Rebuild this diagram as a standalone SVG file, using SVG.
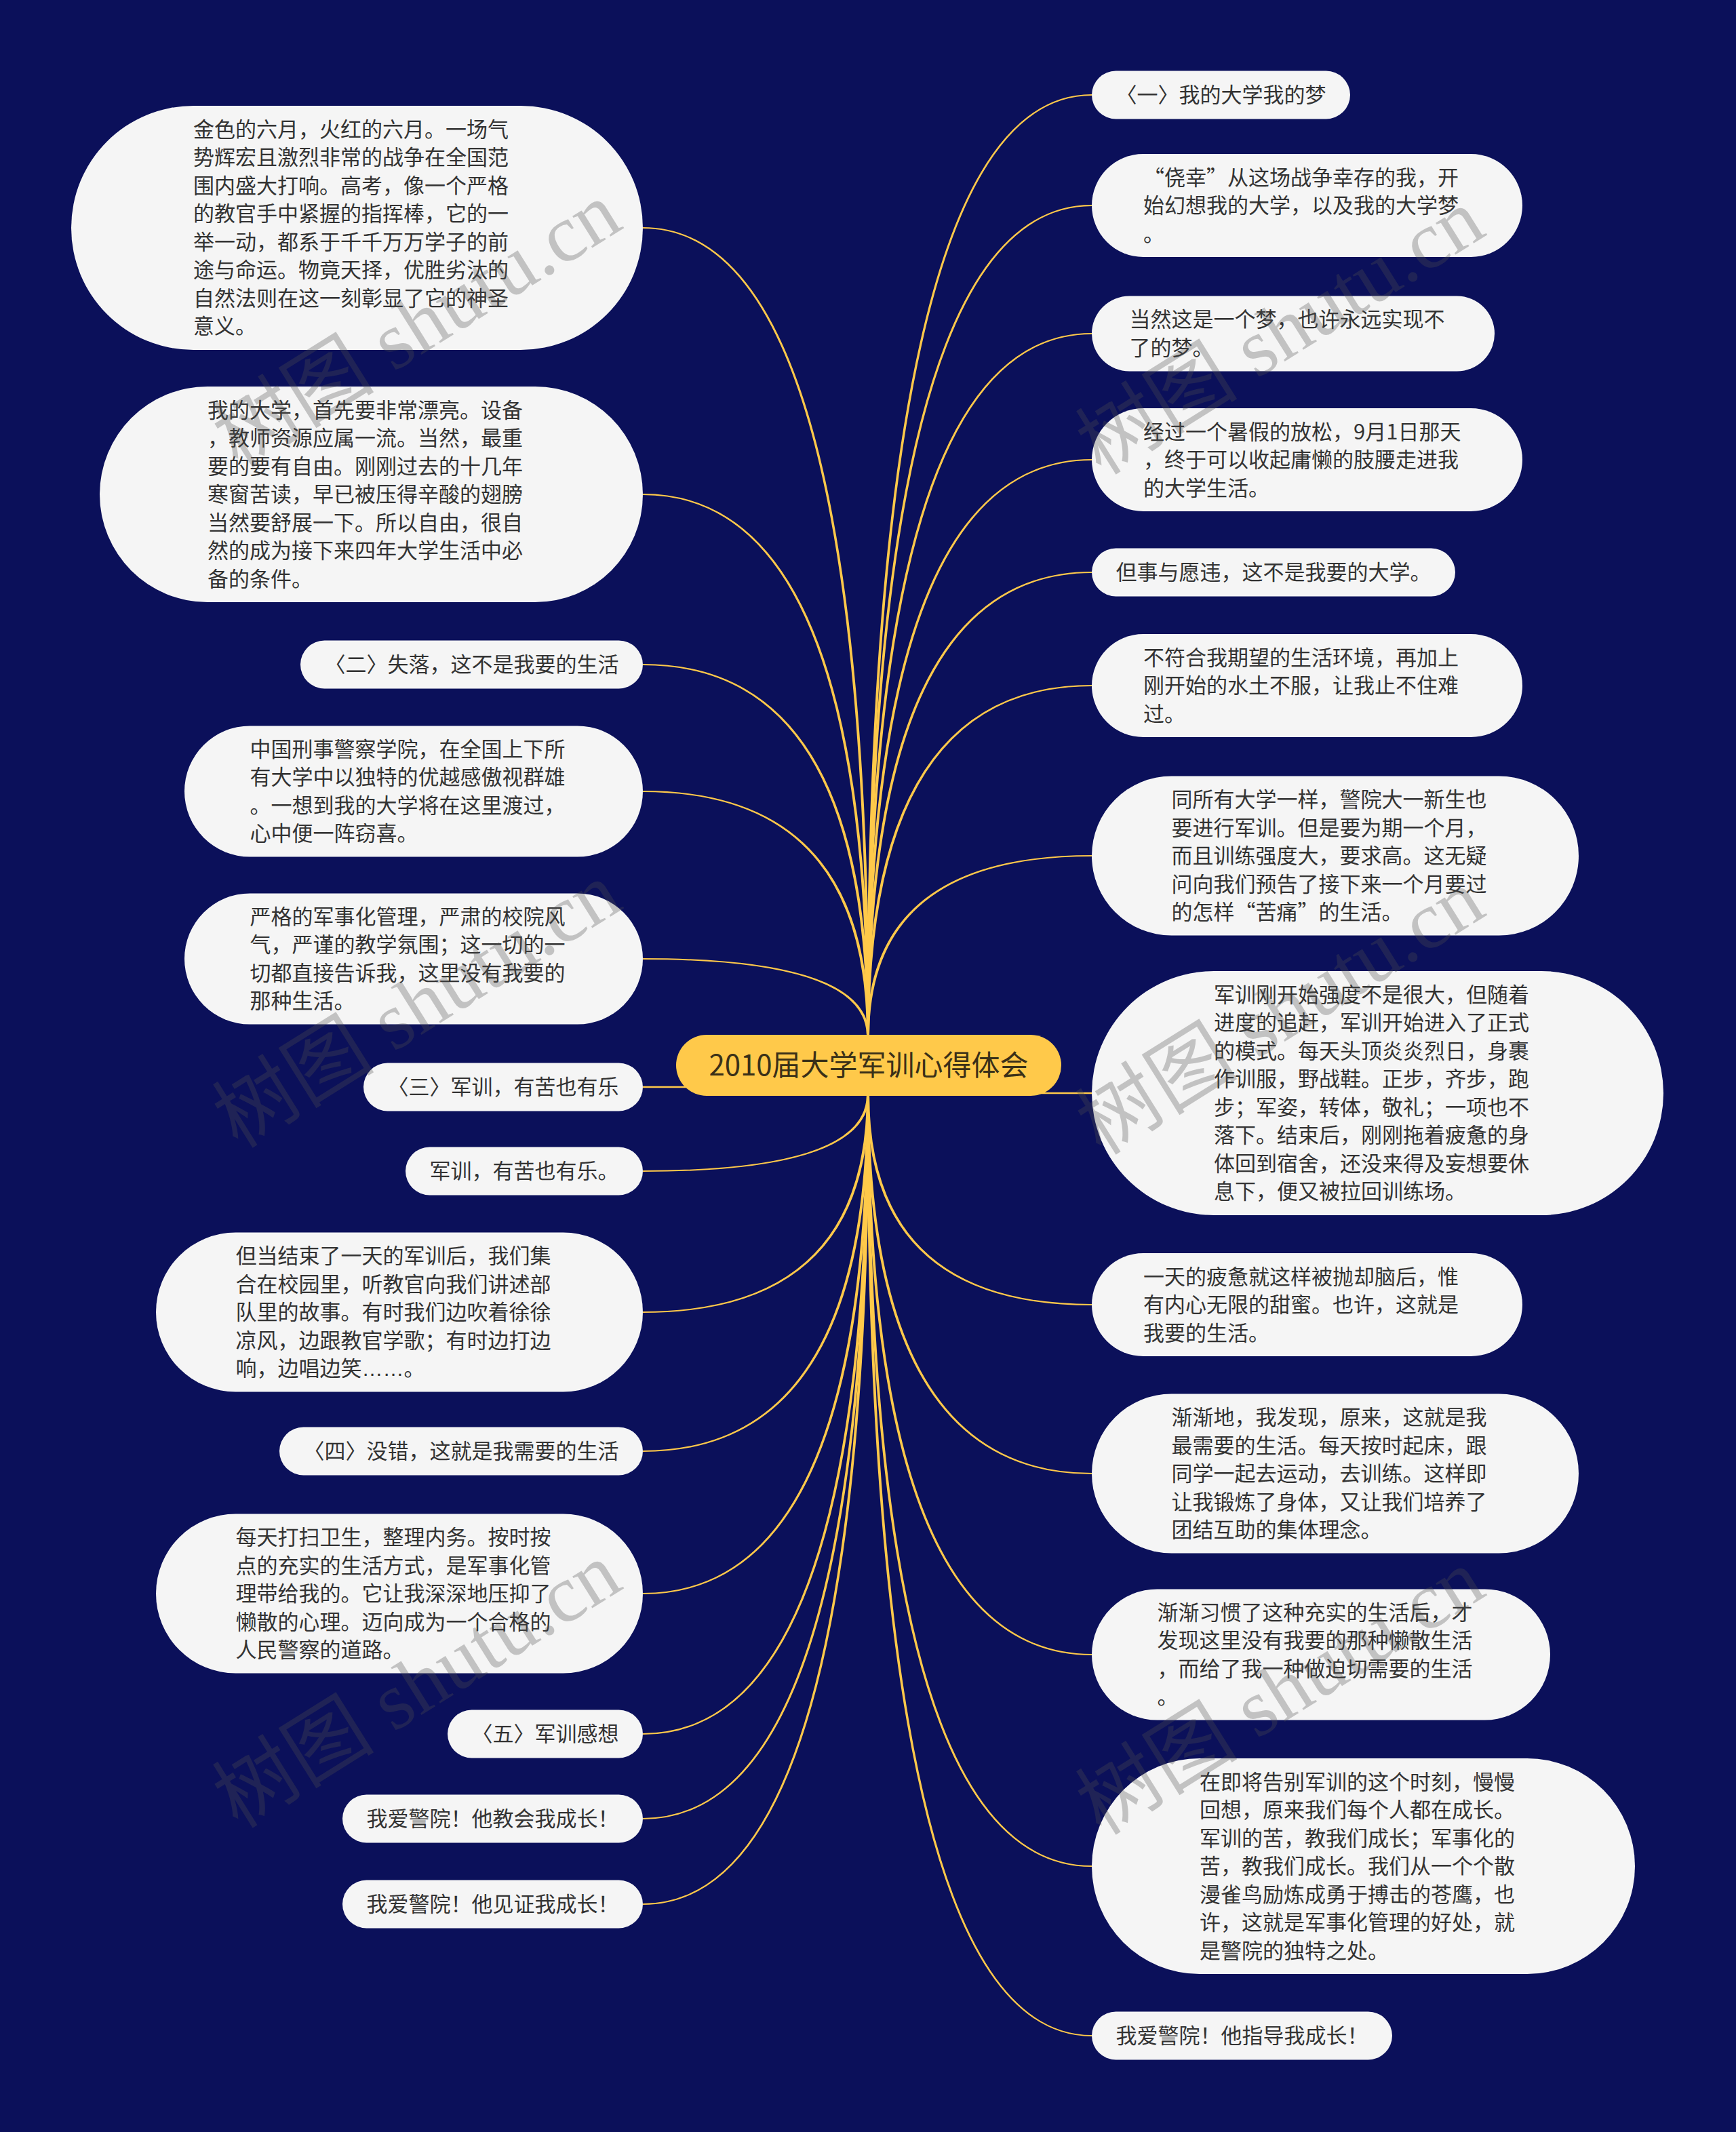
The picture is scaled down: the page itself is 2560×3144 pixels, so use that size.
<svg xmlns="http://www.w3.org/2000/svg" width="2560" height="3144" viewBox="0 0 2560 3144">
<style>
.bg{fill:#0b105a}
.n{fill:#f5f5f5}
.c{fill:#ffc94a}
.t{font-family:"Noto Sans CJK SC","Liberation Sans",sans-serif;font-size:31px;fill:#333333}
.e{font-family:"Liberation Sans",sans-serif}
.ct{font-family:"Noto Sans CJK SC","Liberation Sans",sans-serif;font-size:42px;fill:#3a3018}
.w{font-family:"Liberation Serif","Noto Sans CJK SC",serif;font-size:120px;fill:#505050;opacity:0.3}
#links path{fill:#ffc94a}
</style>
<rect class="bg" x="0" y="0" width="2560" height="3144"/>
<g id="links">
<path d="M1282 1528Q1282 141 1610 141L1610 139Q1278 139 1278 1528Z"/>
<path d="M1282 1528Q1282 304 1610 304L1610 302Q1278 302 1278 1528Z"/>
<path d="M1282 1528Q1282 493 1610 493L1610 491Q1278 491 1278 1528Z"/>
<path d="M1282 1528Q1282 679 1610 679L1610 677Q1278 677 1278 1528Z"/>
<path d="M1282 1528Q1282 845 1610 845L1610 843Q1278 843 1278 1528Z"/>
<path d="M1282 1528Q1282 1012 1610 1012L1610 1010Q1278 1010 1278 1528Z"/>
<path d="M1282 1528Q1282 1263 1610 1263L1610 1261Q1278 1261 1278 1528Z"/>
<path d="M1280 1610.8H1610V1613.2H1280Z"/>
<path d="M1282 1614Q1282 1923 1610 1923L1610 1925Q1278 1925 1278 1614Z"/>
<path d="M1282 1614Q1282 2172 1610 2172L1610 2174Q1278 2174 1278 1614Z"/>
<path d="M1282 1614Q1282 2439 1610 2439L1610 2441Q1278 2441 1278 1614Z"/>
<path d="M1282 1614Q1282 2751 1610 2751L1610 2753Q1278 2753 1278 1614Z"/>
<path d="M1282 1614Q1282 3001 1610 3001L1610 3003Q1278 3003 1278 1614Z"/>
<path d="M1278 1528Q1278 337 948 337L948 335Q1282 335 1282 1528Z"/>
<path d="M1278 1528Q1278 730 948 730L948 728Q1282 728 1282 1528Z"/>
<path d="M1278 1528Q1278 981 948 981L948 979Q1282 979 1282 1528Z"/>
<path d="M1278 1528Q1278 1168 948 1168L948 1166Q1282 1166 1282 1528Z"/>
<path d="M1278 1528Q1278 1415 948 1415L948 1413Q1282 1413 1282 1528Z"/>
<path d="M948 1601.8H1280V1604.2H948Z"/>
<path d="M1278 1614Q1278 1726 948 1726L948 1728Q1282 1728 1282 1614Z"/>
<path d="M1278 1614Q1278 1934 948 1934L948 1936Q1282 1936 1282 1614Z"/>
<path d="M1278 1614Q1278 2139 948 2139L948 2141Q1282 2141 1282 1614Z"/>
<path d="M1278 1614Q1278 2349 948 2349L948 2351Q1282 2351 1282 1614Z"/>
<path d="M1278 1614Q1278 2556 948 2556L948 2558Q1282 2558 1282 1614Z"/>
<path d="M1278 1614Q1278 2681 948 2681L948 2683Q1282 2683 1282 1614Z"/>
<path d="M1278 1614Q1278 2807 948 2807L948 2809Q1282 2809 1282 1614Z"/>
</g>
<g id="center">
<rect class="c" x="997" y="1526" width="568" height="90" rx="45"/>
<text class="ct" x="1281" y="1586" text-anchor="middle">2010届大学军训心得体会</text>
</g>
<g id="r1"><rect class="n" x="1610" y="104.5" width="381" height="71" rx="35.5"/>
<text class="t" x="1645.5" y="151">〈一〉我的大学我的梦</text></g>
<g id="r2"><rect class="n" x="1610" y="227" width="635" height="152" rx="76"/>
<text class="t" x="1686" y="272.5"><tspan x="1686">“侥幸”从这场战争幸存的我，开</tspan><tspan x="1686" dy="41.5">始幻想我的大学，以及我的大学梦</tspan><tspan x="1686" dy="41.5">。</tspan></text></g>
<g id="r3"><rect class="n" x="1610" y="436.5" width="594" height="111" rx="55.5"/>
<text class="t" x="1665.5" y="482.25"><tspan x="1665.5">当然这是一个梦，也许永远实现不</tspan><tspan x="1665.5" dy="41.5">了的梦。</tspan></text></g>
<g id="r4"><rect class="n" x="1610" y="602" width="635" height="152" rx="76"/>
<text class="t" x="1686" y="647.5"><tspan x="1686">经过一个暑假的放松，9月1日那天</tspan><tspan x="1686" dy="41.5">，终于可以收起庸懒的肢腰走进我</tspan><tspan x="1686" dy="41.5">的大学生活。</tspan></text></g>
<g id="r5"><rect class="n" x="1610" y="808.5" width="536" height="71" rx="35.5"/>
<text class="t" x="1645.5" y="855">但事与愿违，这不是我要的大学。</text></g>
<g id="r6"><rect class="n" x="1610" y="935" width="635" height="152" rx="76"/>
<text class="t" x="1686" y="980.5"><tspan x="1686">不符合我期望的生活环境，再加上</tspan><tspan x="1686" dy="41.5">刚开始的水土不服，让我止不住难</tspan><tspan x="1686" dy="41.5">过。</tspan></text></g>
<g id="r7"><rect class="n" x="1610" y="1144.5" width="718" height="235" rx="117.5"/>
<text class="t" x="1727.5" y="1190"><tspan x="1727.5">同所有大学一样，警院大一新生也</tspan><tspan x="1727.5" dy="41.5">要进行军训。但是要为期一个月，</tspan><tspan x="1727.5" dy="41.5">而且训练强度大，要求高。这无疑</tspan><tspan x="1727.5" dy="41.5">问向我们预告了接下来一个月要过</tspan><tspan x="1727.5" dy="41.5">的怎样“苦痛”的生活。</tspan></text></g>
<g id="r8"><rect class="n" x="1610" y="1432" width="843" height="360" rx="180"/>
<text class="t" x="1790" y="1477.75"><tspan x="1790">军训刚开始强度不是很大，但随着</tspan><tspan x="1790" dy="41.5">进度的追赶，军训开始进入了正式</tspan><tspan x="1790" dy="41.5">的模式。每天头顶炎炎烈日，身裹</tspan><tspan x="1790" dy="41.5">作训服，野战鞋。正步，齐步，跑</tspan><tspan x="1790" dy="41.5">步；军姿，转体，敬礼；一项也不</tspan><tspan x="1790" dy="41.5">落下。结束后，刚刚拖着疲惫的身</tspan><tspan x="1790" dy="41.5">体回到宿舍，还没来得及妄想要休</tspan><tspan x="1790" dy="41.5">息下，便又被拉回训练场。</tspan></text></g>
<g id="r9"><rect class="n" x="1610" y="1848" width="635" height="152" rx="76"/>
<text class="t" x="1686" y="1893.5"><tspan x="1686">一天的疲惫就这样被抛却脑后，惟</tspan><tspan x="1686" dy="41.5">有内心无限的甜蜜。也许，这就是</tspan><tspan x="1686" dy="41.5">我要的生活。</tspan></text></g>
<g id="r10"><rect class="n" x="1610" y="2055.5" width="718" height="235" rx="117.5"/>
<text class="t" x="1727.5" y="2101"><tspan x="1727.5">渐渐地，我发现，原来，这就是我</tspan><tspan x="1727.5" dy="41.5">最需要的生活。每天按时起床，跟</tspan><tspan x="1727.5" dy="41.5">同学一起去运动，去训练。这样即</tspan><tspan x="1727.5" dy="41.5">让我锻炼了身体，又让我们培养了</tspan><tspan x="1727.5" dy="41.5">团结互助的集体理念。</tspan></text></g>
<g id="r11"><rect class="n" x="1610" y="2343.5" width="676" height="193" rx="96.5"/>
<text class="t" x="1706.5" y="2388.75"><tspan x="1706.5">渐渐习惯了这种充实的生活后，才</tspan><tspan x="1706.5" dy="41.5">发现这里没有我要的那种懒散生活</tspan><tspan x="1706.5" dy="41.5">，而给了我一种做迫切需要的生活</tspan><tspan x="1706.5" dy="41.5">。</tspan></text></g>
<g id="r12"><rect class="n" x="1610" y="2593" width="801" height="318" rx="159"/>
<text class="t" x="1769" y="2638.5"><tspan x="1769">在即将告别军训的这个时刻，慢慢</tspan><tspan x="1769" dy="41.5">回想，原来我们每个人都在成长。</tspan><tspan x="1769" dy="41.5">军训的苦，教我们成长；军事化的</tspan><tspan x="1769" dy="41.5">苦，教我们成长。我们从一个个散</tspan><tspan x="1769" dy="41.5">漫雀鸟励炼成勇于搏击的苍鹰，也</tspan><tspan x="1769" dy="41.5">许，这就是军事化管理的好处，就</tspan><tspan x="1769" dy="41.5">是警院的独特之处。</tspan></text></g>
<g id="r13"><rect class="n" x="1610" y="2966.5" width="443" height="71" rx="35.5"/>
<text class="t" x="1645.5" y="3013">我爱警院！他指导我成长！</text></g>
<g id="l1"><rect class="n" x="105" y="156" width="843" height="360" rx="180"/>
<text class="t" x="285" y="201.75"><tspan x="285">金色的六月，火红的六月。一场气</tspan><tspan x="285" dy="41.5">势辉宏且激烈非常的战争在全国范</tspan><tspan x="285" dy="41.5">围内盛大打响。高考，像一个严格</tspan><tspan x="285" dy="41.5">的教官手中紧握的指挥棒，它的一</tspan><tspan x="285" dy="41.5">举一动，都系于千千万万学子的前</tspan><tspan x="285" dy="41.5">途与命运。物竟天择，优胜劣汰的</tspan><tspan x="285" dy="41.5">自然法则在这一刻彰显了它的神圣</tspan><tspan x="285" dy="41.5">意义。</tspan></text></g>
<g id="l2"><rect class="n" x="147" y="570" width="801" height="318" rx="159"/>
<text class="t" x="306" y="615.5"><tspan x="306">我的大学，首先要非常漂亮。设备</tspan><tspan x="306" dy="41.5">，教师资源应属一流。当然，最重</tspan><tspan x="306" dy="41.5">要的要有自由。刚刚过去的十几年</tspan><tspan x="306" dy="41.5">寒窗苦读，早已被压得辛酸的翅膀</tspan><tspan x="306" dy="41.5">当然要舒展一下。所以自由，很自</tspan><tspan x="306" dy="41.5">然的成为接下来四年大学生活中必</tspan><tspan x="306" dy="41.5">备的条件。</tspan></text></g>
<g id="l3"><rect class="n" x="443" y="944.5" width="505" height="71" rx="35.5"/>
<text class="t" x="478.5" y="991">〈二〉失落，这不是我要的生活</text></g>
<g id="l4"><rect class="n" x="272" y="1070.5" width="676" height="193" rx="96.5"/>
<text class="t" x="368.5" y="1115.75"><tspan x="368.5">中国刑事警察学院，在全国上下所</tspan><tspan x="368.5" dy="41.5">有大学中以独特的优越感傲视群雄</tspan><tspan x="368.5" dy="41.5">。一想到我的大学将在这里渡过，</tspan><tspan x="368.5" dy="41.5">心中便一阵窃喜。</tspan></text></g>
<g id="l5"><rect class="n" x="272" y="1317.5" width="676" height="193" rx="96.5"/>
<text class="t" x="368.5" y="1362.75"><tspan x="368.5">严格的军事化管理，严肃的校院风</tspan><tspan x="368.5" dy="41.5">气，严谨的教学氛围；这一切的一</tspan><tspan x="368.5" dy="41.5">切都直接告诉我，这里没有我要的</tspan><tspan x="368.5" dy="41.5">那种生活。</tspan></text></g>
<g id="l6"><rect class="n" x="536" y="1567.5" width="412" height="71" rx="35.5"/>
<text class="t" x="571.5" y="1614">〈三〉军训，有苦也有乐</text></g>
<g id="l7"><rect class="n" x="598" y="1691.5" width="350" height="71" rx="35.5"/>
<text class="t" x="633.5" y="1738">军训，有苦也有乐。</text></g>
<g id="l8"><rect class="n" x="230" y="1817.5" width="718" height="235" rx="117.5"/>
<text class="t" x="347.5" y="1863"><tspan x="347.5">但当结束了一天的军训后，我们集</tspan><tspan x="347.5" dy="41.5">合在校园里，听教官向我们讲述部</tspan><tspan x="347.5" dy="41.5">队里的故事。有时我们边吹着徐徐</tspan><tspan x="347.5" dy="41.5">凉风，边跟教官学歌；有时边打边</tspan><tspan x="347.5" dy="41.5">响，边唱边笑<tspan class="e">……</tspan>。</tspan></text></g>
<g id="l9"><rect class="n" x="412" y="2104.5" width="536" height="71" rx="35.5"/>
<text class="t" x="447.5" y="2151">〈四〉没错，这就是我需要的生活</text></g>
<g id="l10"><rect class="n" x="230" y="2232.5" width="718" height="235" rx="117.5"/>
<text class="t" x="347.5" y="2278"><tspan x="347.5">每天打扫卫生，整理内务。按时按</tspan><tspan x="347.5" dy="41.5">点的充实的生活方式，是军事化管</tspan><tspan x="347.5" dy="41.5">理带给我的。它让我深深地压抑了</tspan><tspan x="347.5" dy="41.5">懒散的心理。迈向成为一个合格的</tspan><tspan x="347.5" dy="41.5">人民警察的道路。</tspan></text></g>
<g id="l11"><rect class="n" x="660" y="2521.5" width="288" height="71" rx="35.5"/>
<text class="t" x="695.5" y="2568">〈五〉军训感想</text></g>
<g id="l12"><rect class="n" x="505" y="2646.5" width="443" height="71" rx="35.5"/>
<text class="t" x="540.5" y="2693">我爱警院！他教会我成长！</text></g>
<g id="l13"><rect class="n" x="505" y="2772.5" width="443" height="71" rx="35.5"/>
<text class="t" x="540.5" y="2819">我爱警院！他见证我成长！</text></g>
<g id="watermark">
<text class="w" x="351" y="692" transform="rotate(-32 351 692)">树图 shutu.cn</text>
<text class="w" x="1624" y="702" transform="rotate(-32 1624 702)">树图 shutu.cn</text>
<text class="w" x="351" y="1695" transform="rotate(-32 351 1695)">树图 shutu.cn</text>
<text class="w" x="1624" y="1705" transform="rotate(-32 1624 1705)">树图 shutu.cn</text>
<text class="w" x="351" y="2698" transform="rotate(-32 351 2698)">树图 shutu.cn</text>
<text class="w" x="1624" y="2708" transform="rotate(-32 1624 2708)">树图 shutu.cn</text>
</g>
</svg>
